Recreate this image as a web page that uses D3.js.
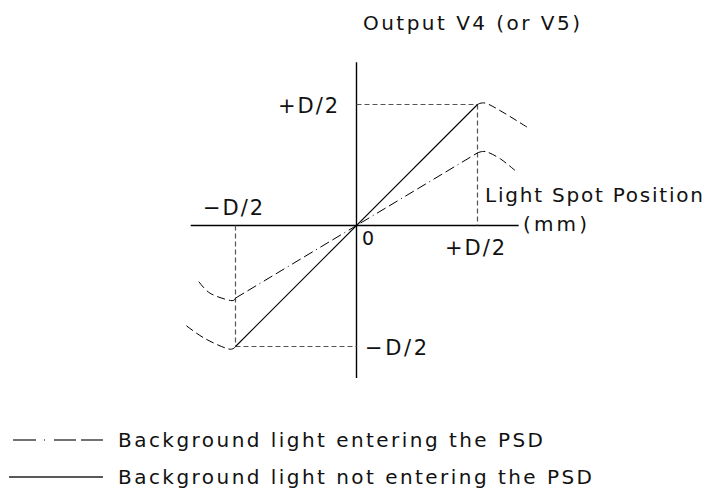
<!DOCTYPE html>
<html>
<head>
<meta charset="utf-8">
<script src="https://cdn.jsdelivr.net/npm/d3@7"></script>
<style>
  html, body { margin: 0; padding: 0; background: #fff; }
  text { font-family: "DejaVu Sans", sans-serif; fill: #111; }
</style>
</head>
<body>
<div id="chart"></div>
<script>
// Datos (unidades de D/2)
const tickLabelsX = ["\u2212D/2", "+D/2"];
const tickLabelsY = ["\u2212D/2", "+D/2"];

// recta sin luz de fondo
const solidLine = [[-1, -1], [1, 1]];
// recta con luz de fondo
const dashDotLine = [[-1, -0.6], [1, 0.6]];

// extremos curvos fuera del rango
const solidCapRight = [[1, 1], [1.07, 1.01], [1.22, 0.93], [1.43, 0.80]];
const solidCapLeft = [[-1, -1], [-1.06, -1.02], [-1.26, -0.93], [-1.43, -0.81]];
const dashCapRight = [[1, 0.6], [1.07, 0.61], [1.19, 0.55], [1.31, 0.455]];
const dashCapLeft = [[-1, -0.6], [-1.04, -0.62], [-1.21, -0.56], [-1.31, -0.455]];

const legendLabels = ["Background light entering the PSD", "Background light not entering the PSD"];

const width = 710;
const height = 494;

const svg = d3.select("#chart")
    .append("svg")
    .attr("width", width)
    .attr("height", height);

const x = d3.scaleLinear().domain([-1, 1]).range([235.5, 477.5]);
const y = d3.scaleLinear().domain([-1, 1]).range([346.5, 104.5]);

// Ejes
svg.append("line")
    .attr("x1", x(-1.37)).attr("x2", x(1.34))
    .attr("y1", y(0)).attr("y2", y(0))
    .attr("stroke", "#000").attr("stroke-width", 1.4);

svg.append("line")
    .attr("x1", x(0)).attr("x2", x(0))
    .attr("y1", y(1.35)).attr("y2", y(-1.26))
    .attr("stroke", "#000").attr("stroke-width", 1.4);

// Guias punteadas
const guide = svg.append("g")
    .attr("stroke", "#555")
    .attr("stroke-width", 1.2)
    .attr("stroke-dasharray", "5,3")
    .attr("fill", "none");

guide.append("line")
    .attr("x1", x(0)).attr("x2", x(1))
    .attr("y1", y(1)).attr("y2", y(1));
guide.append("line")
    .attr("x1", x(1)).attr("x2", x(1))
    .attr("y1", y(1)).attr("y2", y(0));
guide.append("line")
    .attr("x1", x(-1)).attr("x2", x(-1))
    .attr("y1", y(0)).attr("y2", y(-1));
guide.append("line")
    .attr("x1", x(-1)).attr("x2", x(0))
    .attr("y1", y(-1)).attr("y2", y(-1));

const line = d3.line()
    .x(d => x(d[0]))
    .y(d => y(d[1]));

const curve = d3.line()
    .x(d => x(d[0]))
    .y(d => y(d[1]))
    .curve(d3.curveCardinal);

svg.append("path")
    .attr("d", line(solidLine))
    .attr("fill", "none")
    .attr("stroke", "#000")
    .attr("stroke-width", 1.1);

svg.append("path")
    .attr("d", line(dashDotLine))
    .attr("fill", "none")
    .attr("stroke", "#000")
    .attr("stroke-width", 1)
    .attr("stroke-dasharray", "10,4,10,4,1,4");

[solidCapRight, solidCapLeft, dashCapRight, dashCapLeft].forEach(c => {
    svg.append("path")
        .attr("d", curve(c))
        .attr("fill", "none")
        .attr("stroke", "#000")
        .attr("stroke-width", 1)
        .attr("stroke-dasharray", "8,4");
});

// Textos
function label(txt, px, py, size, len) {
    const t = svg.append("text")
        .attr("x", px)
        .attr("y", py)
        .style("font-size", size + "px")
        .text(txt);
    if (len) t.attr("textLength", len).attr("lengthAdjust", "spacing");
    return t;
}

label("Output V4 (or V5)", 363, 30, 20, 217);
label(tickLabelsY[1], 278, 113, 21, 60);
label(tickLabelsY[0], 365, 355, 21, 62);
label(tickLabelsX[0], 203, 215, 21, 60);
label(tickLabelsX[1], 445, 255, 21, 60);
label("0", 362, 245, 19);
label("Light Spot Position", 485, 202, 20, 218);
label("(mm)", 523, 231, 20, 64);

// Leyenda
svg.append("line")
    .attr("x1", 13).attr("x2", 103)
    .attr("y1", 440).attr("y2", 440)
    .attr("stroke", "#444").attr("stroke-width", 1.5)
    .attr("stroke-dasharray", "23,8,1,9,22,5,22");

svg.append("line")
    .attr("x1", 9).attr("x2", 103)
    .attr("y1", 477).attr("y2", 477)
    .attr("stroke", "#222").attr("stroke-width", 1.5);

label(legendLabels[0], 118, 447, 20, 425);
label(legendLabels[1], 118, 484, 20, 474);
</script>
</body>
</html>
